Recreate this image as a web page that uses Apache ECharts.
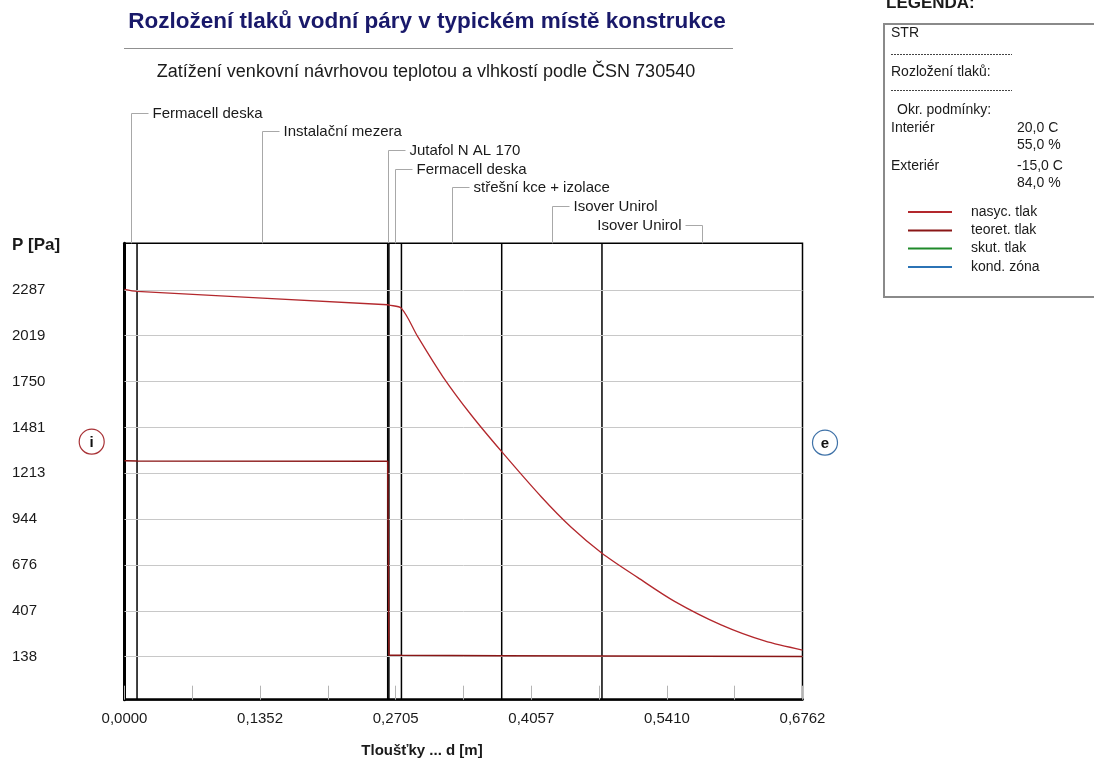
<!DOCTYPE html>
<html>
<head>
<meta charset="utf-8">
<script src="https://cdn.jsdelivr.net/npm/echarts@6/dist/echarts.min.js"></script>
<style>
html,body{margin:0;padding:0;background:#fff;}
#c{width:1094px;height:761px;}
</style>
</head>
<body>
<div id="c"></div>
<script>
// ---- data ----
const layerNames = ['Fermacell deska','Instalační mezera','Jutafol N AL 170','Fermacell deska','střešní kce + izolace','Isover Unirol','Isover Unirol'];
const layerBounds = [0, 0.0125, 0.2625, 0.2637, 0.2762, 0.3762, 0.4762, 0.6762];

const satX = [0, 0.0125, 0.2625, 0.2637, 0.2762, 0.2926, 0.3176, 0.3458, 0.3762, 0.4156, 0.4455, 0.4762, 0.5120, 0.5486, 0.5950, 0.6383, 0.6762];
const satP = [2290, 2278, 2200, 2198, 2179, 2012, 1778, 1554, 1339, 1075, 896, 744, 601, 462, 324, 230, 177];

const teorX = [0, 0.0125, 0.2625, 0.2637, 0.2762, 0.3762, 0.4762, 0.6762];
const teorP = [1286, 1285, 1283, 147, 146, 144, 142, 139];

const yTicks = [138, 407, 676, 944, 1213, 1481, 1750, 2019, 2287];
const xTickValues = [0, 0.1352, 0.2705, 0.4057, 0.5410, 0.6762];
const xTickLabels = ['0,0000', '0,1352', '0,2705', '0,4057', '0,5410', '0,6762'];

const legendNames = ['nasyc. tlak', 'teoret. tlak', 'skut. tlak', 'kond. zóna'];
const legendColors = ['#b3282d', '#8a1616', '#1f8a2a', '#2b73b5'];
const condLabels = ['Interiér', 'Exteriér'];
const condTemps = ['20,0 C', '-15,0 C'];
const condHum = ['55,0 %', '84,0 %'];

const titleText = 'Rozložení tlaků vodní páry v typickém místě konstrukce';
const subtitleText = 'Zatížení venkovní návrhovou teplotou a vlhkostí podle ČSN 730540';

// ---- chart ----
const FONT = "'Liberation Sans', Arial, sans-serif";
const Y_MIN = -114, Y_MAX = 2560;
const chart = echarts.init(document.getElementById('c'), null, {renderer: 'canvas'});

const zip = (xs, ys) => xs.map((x, i) => [x, ys[i]]);

const boundarySeries = layerBounds.slice(1, -1).map((b, i) => ({
  name: 'hranice' + i, type: 'line', z: 2, silent: true, symbol: 'none', showSymbol: false,
  lineStyle: {color: '#000', width: 1.5}, itemStyle: {color: '#000'},
  data: [[b, Y_MIN], [b, Y_MAX]]
}));

const option = {
  animation: false,
  backgroundColor: '#fff',
  grid: {
    left: 124.5, right: 291.5, top: 243.3, bottom: 61.3,
    show: true, borderColor: '#000', borderWidth: 1.5, backgroundColor: 'transparent'
  },
  xAxis: {
    type: 'value', min: 0, max: 0.6762, interval: 0.06762,
    axisLine: {show: true, onZero: false, lineStyle: {color: '#000', width: 2.5}},
    axisTick: {show: true, inside: true, length: 14, lineStyle: {color: '#b4b4b4', width: 1}},
    splitLine: {show: false},
    axisLabel: {
      customValues: xTickValues, margin: 12, color: '#1a1a1a',
      fontFamily: FONT, fontSize: 15, showMinLabel: true, showMaxLabel: true,
      formatter: function (v) {
        let best = 0, bd = 1e9;
        xTickValues.forEach((t, i) => { const d = Math.abs(t - v); if (d < bd) { bd = d; best = i; } });
        return xTickLabels[best];
      }
    }
  },
  yAxis: {
    type: 'value', min: Y_MIN, max: Y_MAX,
    axisLine: {show: true, onZero: false, lineStyle: {color: '#000', width: 3}},
    axisTick: {show: false},
    splitLine: {show: false},
    axisLabel: {
      customValues: yTicks, align: 'left', margin: 112.5, color: '#1a1a1a',
      fontFamily: FONT, fontSize: 15,
      formatter: function (v) { return String(Math.round(v)); }
    }
  },
  series: [
    {
      name: 'grid', type: 'line', data: [], z: 1, silent: true,
      markLine: {
        silent: true, symbol: 'none', animation: false,
        label: {show: false},
        lineStyle: {color: '#c8c8c8', width: 1, type: 'solid'},
        data: yTicks.map(v => ({yAxis: v}))
      }
    }
  ].concat(boundarySeries).concat([
    {
      name: 'nasyc. tlak', type: 'line', z: 5, showSymbol: false, symbol: 'none',
      smooth: 0.3,
      lineStyle: {color: legendColors[0], width: 1.3}, itemStyle: {color: legendColors[0]},
      data: zip(satX, satP)
    },
    {
      name: 'teoret. tlak', type: 'line', z: 6, showSymbol: false, symbol: 'none',
      lineStyle: {color: legendColors[1], width: 1.5}, itemStyle: {color: legendColors[1]},
      data: zip(teorX, teorP)
    }
  ])
};
chart.setOption(option);

// ---- annotation graphics ----
const g = [];
const txt = (x, y, s, o) => g.push({
  type: 'text', x: x, y: y, silent: true,
  style: Object.assign({text: s, fill: '#1a1a1a', font: '15px ' + FONT, textAlign: 'left', textVerticalAlign: 'middle'}, o || {})
});
const line = (x1, y1, x2, y2, st) => g.push({
  type: 'line', silent: true, shape: {x1: x1, y1: y1, x2: x2, y2: y2},
  style: Object.assign({stroke: '#a8a8a8', lineWidth: 1}, st || {})
});

// title
txt(427, 22, titleText, {fill: '#19196a', font: 'bold 22.5px ' + FONT, textAlign: 'center'});
line(124, 48.5, 733, 48.5, {stroke: '#909090', lineWidth: 1.2});
txt(426, 72, subtitleText, {font: '18px ' + FONT, textAlign: 'center'});

// axis names
txt(12, 245, 'P [Pa]', {font: 'bold 17px ' + FONT});
txt(422, 751, 'Tloušťky ... d [m]', {font: 'bold 15px ' + FONT, textAlign: 'center'});

// layer labels with leader lines
const plotTop = chart.convertToPixel({gridIndex: 0}, [0, Y_MAX])[1];
layerNames.forEach((name, i) => {
  const mid = (layerBounds[i] + layerBounds[i + 1]) / 2;
  const px = Math.round(chart.convertToPixel({gridIndex: 0}, [mid, 0])[0]) + 0.5;
  const ly = Math.round(112.5 + i * 18.7) + 0.5;
  line(px, ly, px, plotTop);
  if (i === layerNames.length - 1) {
    line(px, ly, px - 17, ly);
    txt(px - 21, ly, name, {textAlign: 'right'});
  } else {
    line(px, ly, px + 17, ly);
    txt(px + 21, ly, name);
  }
});

// i / e markers
g.push({type: 'circle', silent: true, shape: {cx: 91.7, cy: 441.7, r: 12.5}, style: {fill: '#fff', stroke: '#a83236', lineWidth: 1.2}});
txt(91.7, 443, 'i', {font: 'bold 15px ' + FONT, textAlign: 'center', fill: '#111'});
g.push({type: 'circle', silent: true, shape: {cx: 825, cy: 442.7, r: 12.5}, style: {fill: '#fff', stroke: '#3f72a8', lineWidth: 1.2}});
txt(825, 443.5, 'e', {font: 'bold 15px ' + FONT, textAlign: 'center', fill: '#111'});

// legend panel
txt(886, 3, 'LEGENDA:', {font: 'bold 17px ' + FONT});
g.push({type: 'rect', silent: true, shape: {x: 884, y: 24, width: 240, height: 273}, style: {fill: '#fff', stroke: '#8a8a8a', lineWidth: 2}});
const LF = '14px ' + FONT;
txt(891, 33, 'STR', {font: LF});
line(891, 54.5, 1012, 54.5, {stroke: '#444', lineDash: [2, 1]});
txt(891, 72, 'Rozložení tlaků:', {font: LF});
line(891, 90.5, 1012, 90.5, {stroke: '#444', lineDash: [2, 1]});
txt(897, 110, 'Okr. podmínky:', {font: LF});
txt(891, 128, condLabels[0], {font: LF});
txt(1017, 128, condTemps[0], {font: LF});
txt(1017, 145, condHum[0], {font: LF});
txt(891, 166, condLabels[1], {font: LF});
txt(1017, 166, condTemps[1], {font: LF});
txt(1017, 183, condHum[1], {font: LF});
const legY = [212, 230.5, 248.5, 267];
legendNames.forEach((n, i) => {
  line(908, legY[i], 952, legY[i], {stroke: legendColors[i], lineWidth: 2.2});
  txt(971, legY[i], n, {font: LF});
});

chart.setOption({graphic: {elements: g}});
</script>
</body>
</html>
